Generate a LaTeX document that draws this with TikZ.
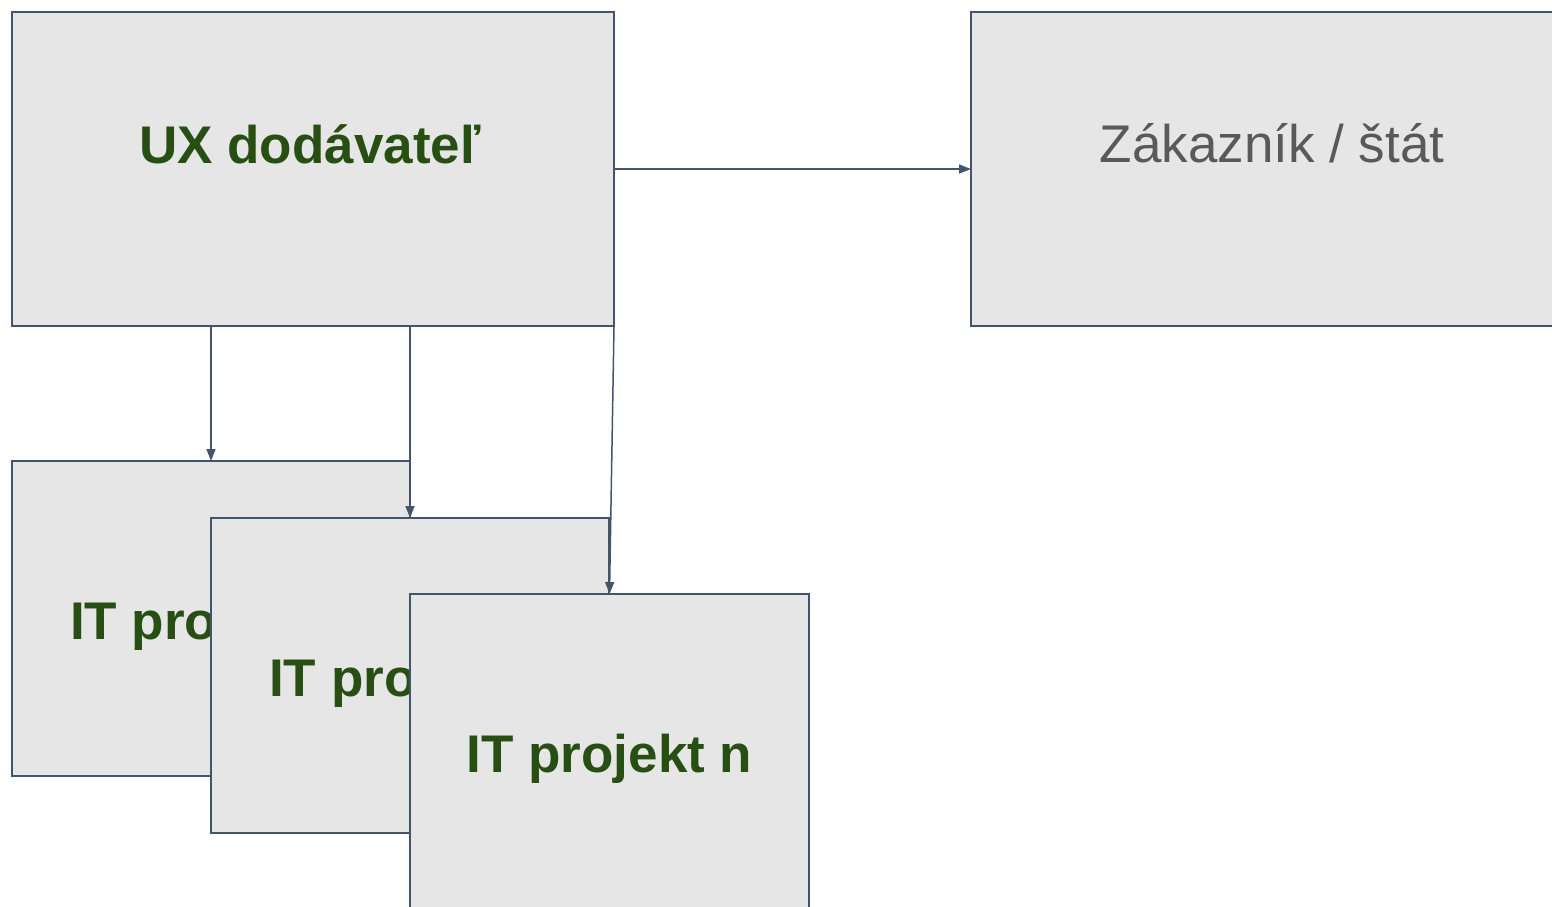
\documentclass[tikz,border=0pt]{standalone}
\usepackage{fontspec}
\setmainfont{Liberation Sans}
\usetikzlibrary{arrows.meta,calc}
\definecolor{boxfill}{HTML}{E6E6E6}
\definecolor{boxline}{HTML}{44546A}
\definecolor{txtgreen}{HTML}{274E13}
\definecolor{txtgray}{HTML}{595959}
\tikzset{
  box/.style={draw=boxline, fill=boxfill, line width=1.5pt, inner sep=0pt, outer sep=0pt},
  greentxt/.style={text=txtgreen, font=\fontsize{53}{60}\selectfont\bfseries, inner sep=0pt},
  graytxt/.style={text=txtgray, font=\fontsize{53}{60}\selectfont, inner sep=0pt},
  conn/.style={draw=boxline, line width=1.5pt, -{Triangle[length=12pt,width=9pt]}}
}
\begin{document}
\begin{tikzpicture}[x=1pt,y=-1pt]
\useasboundingbox (0,0) rectangle (1552,906);
\node[box, minimum width=602pt, minimum height=314pt] (ux) at (313,169) {};
\node[greentxt, anchor=base] (uxt) at (310,163) {UX dodávateľ};
\node[box, minimum width=602pt, minimum height=314pt] (zak) at (1272,169) {};
\node[graytxt, anchor=base] (zakt) at (1272,162) {Zákazník / štát};
\node[box, minimum width=398pt, minimum height=315pt] (it1) at (211,618.5) {};
\node[greentxt, anchor=base west] (it1t) at (70,639) {IT pro};
\node[box, minimum width=398pt, minimum height=315pt] (it2) at (410,675.5) {};
\node[greentxt, anchor=base west] (it2t) at (269,696) {IT pro};
\node[box, minimum width=399pt, minimum height=315pt] (it3) at (609.5,751.5) {};
\node[greentxt, anchor=base] (it3t) at (609.5,772) {IT projekt n};
\draw[conn] (ux.east) -- (zak.west);
\draw[conn] (ux.south -| it1.north) -- (it1.north);
\draw[conn] (ux.south -| it2.north) -- (it2.north);
\draw[conn] (ux.south east) -- (it3.north);
\end{tikzpicture}
\end{document}
